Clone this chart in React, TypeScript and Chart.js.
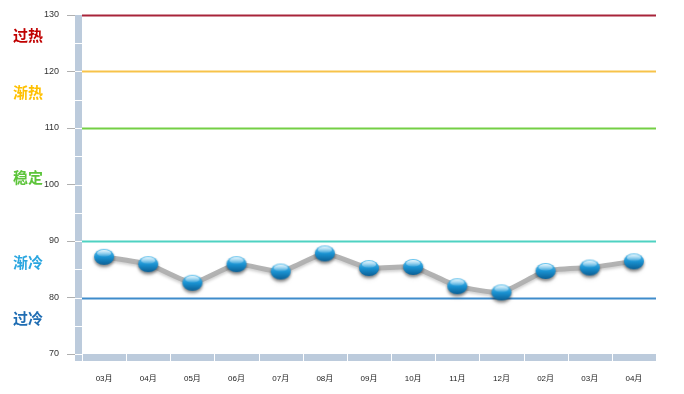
import React, { useEffect, useRef } from "react";
import { Chart, registerables } from "chart.js";

Chart.register(...registerables);

const months = ["03月", "04月", "05月", "06月", "07月", "08月", "09月", "10月", "11月", "12月", "02月", "03月", "04月"];
const values = [87.2, 85.9, 82.6, 85.9, 84.6, 87.8, 85.2, 85.4, 82.0, 80.9, 84.7, 85.3, 86.4];

const thresholdValues = [130, 120, 110, 90, 80];
const thresholdColors = ["#a8243a", "#f7c34a", "#74cf45", "#4fd2c2", "#3f8ccb"];

const zoneLabels = ["过热", "渐热", "稳定", "渐冷", "过冷"];
const zoneValues = [126.4, 116.4, 101.2, 86.2, 76.25];
const zoneColors = ["#c00000", "#ffc000", "#5cc43a", "#2aa6e0", "#1f6db3"];

const yMin = 70;
const yMax = 130;
const yStep = 10;

function makeMarker(): HTMLCanvasElement {
  const c = document.createElement("canvas");
  c.width = 28;
  c.height = 26;
  const g = c.getContext("2d")!;
  const cx = 14, cy = 13, rx = 10, ry = 8;
  g.save();
  g.shadowColor = "rgba(0,0,0,0.35)";
  g.shadowBlur = 3;
  g.shadowOffsetY = 2;
  g.beginPath();
  g.ellipse(cx, cy, rx, ry, 0, 0, Math.PI * 2);
  const grad = g.createLinearGradient(0, cy - ry, 0, cy + ry);
  grad.addColorStop(0, "#6cc9f2");
  grad.addColorStop(0.5, "#1a93d3");
  grad.addColorStop(1, "#0b5f95");
  g.fillStyle = grad;
  g.fill();
  g.restore();
  g.beginPath();
  g.ellipse(cx, cy - 3.6, 7, 3.4, 0, 0, Math.PI * 2);
  const hg = g.createLinearGradient(0, cy - 7, 0, cy);
  hg.addColorStop(0, "rgba(255,255,255,0.85)");
  hg.addColorStop(1, "rgba(255,255,255,0.05)");
  g.fillStyle = hg;
  g.fill();
  return c;
}

const decorPlugin = {
  id: "decor",
  beforeDatasetsDraw(chart: any) {
    const { ctx, chartArea, scales } = chart;
    const y = scales.y;
    ctx.save();
    thresholdValues.forEach((v, i) => {
      const py = Math.round(y.getPixelForValue(v)) + 0.5;
      ctx.strokeStyle = thresholdColors[i];
      ctx.lineWidth = 2;
      ctx.beginPath();
      ctx.moveTo(chartArea.left, py);
      ctx.lineTo(chartArea.right, py);
      ctx.stroke();
    });
    ctx.restore();
    ctx.save();
    ctx.shadowColor = "rgba(0,0,0,0.2)";
    ctx.shadowBlur = 3;
    ctx.shadowOffsetY = 2;
  },
  afterDatasetsDraw(chart: any) {
    chart.ctx.restore();
  },
  afterDraw(chart: any) {
    const { ctx, chartArea, scales } = chart;
    const y = scales.y;
    const x = scales.x;
    const bandW = 7;
    const band = "#bccbdc";
    ctx.save();
    ctx.fillStyle = band;
    ctx.fillRect(chartArea.left - bandW, chartArea.top, bandW, chartArea.bottom - chartArea.top + bandW);
    ctx.fillRect(chartArea.left - bandW, chartArea.bottom, chartArea.right - chartArea.left + bandW, bandW);
    ctx.strokeStyle = "#ffffff";
    ctx.lineWidth = 1;
    for (let v = yMin + 5; v < yMax; v += 5) {
      const py = Math.round(y.getPixelForValue(v)) + 0.5;
      ctx.beginPath();
      ctx.moveTo(chartArea.left - bandW, py);
      ctx.lineTo(chartArea.left, py);
      ctx.stroke();
    }
    ctx.beginPath();
    ctx.moveTo(chartArea.left - bandW, chartArea.bottom + 0.5);
    ctx.lineTo(chartArea.left, chartArea.bottom + 0.5);
    ctx.moveTo(chartArea.left + 0.5, chartArea.bottom);
    ctx.lineTo(chartArea.left + 0.5, chartArea.bottom + bandW);
    ctx.stroke();
    for (let i = 0; i < months.length - 1; i++) {
      const px = Math.round((x.getPixelForTick(i) + x.getPixelForTick(i + 1)) / 2) + 0.5;
      ctx.beginPath();
      ctx.moveTo(px, chartArea.bottom);
      ctx.lineTo(px, chartArea.bottom + bandW);
      ctx.stroke();
    }
    ctx.font = "bold 15px 'Noto Sans CJK SC', sans-serif";
    ctx.textAlign = "left";
    ctx.textBaseline = "middle";
    zoneLabels.forEach((t, i) => {
      ctx.fillStyle = zoneColors[i];
      ctx.fillText(t, 13, y.getPixelForValue(zoneValues[i]));
    });
    ctx.restore();
  },
};

export default function App() {
  const ref = useRef<HTMLCanvasElement | null>(null);
  useEffect(() => {
    document.body.style.margin = "0";
    const marker = makeMarker();
    const chart = new Chart(ref.current!, {
      type: "line",
      data: {
        labels: months,
        datasets: [
          {
            data: values,
            borderColor: "rgba(175,175,175,0.95)",
            borderWidth: 5,
            borderJoinStyle: "round",
            borderCapStyle: "round",
            tension: 0.15,
            pointStyle: marker as any,
            pointRadius: 10,
            pointHoverRadius: 10,
          },
        ],
      },
      options: {
        responsive: false,
        animation: false,
        events: [],
        layout: { padding: { top: 13, right: 28, left: 0, bottom: 0 } },
        plugins: { legend: { display: false }, tooltip: { enabled: false } },
        scales: {
          x: {
            offset: true,
            grid: { display: false, drawTicks: false },
            border: { display: false },
            ticks: {
              padding: 20,
              color: "#222",
              font: { size: 8, family: "'Liberation Sans', 'Noto Sans CJK SC', sans-serif" },
              maxRotation: 0,
              autoSkip: false,
            },
            afterFit(s: any) {
              s.height = 40;
            },
          },
          y: {
            min: yMin,
            max: yMax,
            grid: { drawOnChartArea: false, tickLength: 15, color: "#b0b0b0", lineWidth: 1 },
            border: { display: false },
            ticks: {
              stepSize: yStep,
              padding: 8,
              color: "#333",
              font: { size: 9, family: "'Liberation Sans', sans-serif" },
            },
            afterFit(s: any) {
              s.width = 82;
            },
          },
        },
      },
      plugins: [decorPlugin],
    });
    return () => chart.destroy();
  }, []);
  return (
    <div style={{ position: "absolute", left: 0, top: 0, width: 684, height: 394, background: "#fff" }}>
      <canvas ref={ref} width={684} height={394} />
    </div>
  );
}
